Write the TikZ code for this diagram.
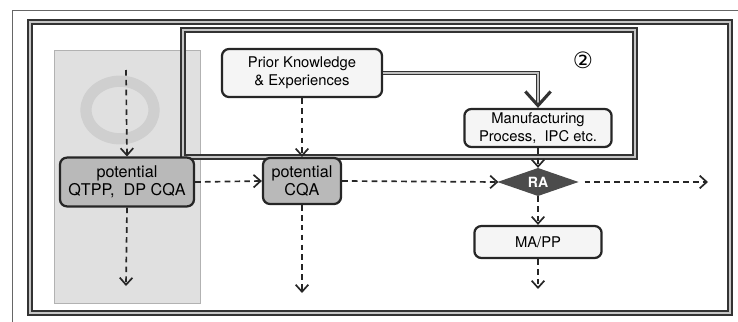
\documentclass[tikz,border=0pt]{standalone}
\usepackage{fontspec}
\setsansfont{TeX Gyre Heros}
\newfontfamily\circfont{DejaVu Sans}
\usetikzlibrary{arrows.meta,shapes.geometric,positioning}

\begin{document}
\begin{tikzpicture}[x=0.025cm, y=-0.025cm, node distance=1.5cm, thick,
    frame line/.style={draw=black!80, line width=1.1pt, double=gray!45, double distance=1.4pt},
    box node/.style={rectangle, rounded corners=5pt, draw=black!85, line width=1.6pt, font=\sffamily\fontsize{10.5}{12.5}\selectfont, align=center, inner sep=1pt},
    light node/.style={box node, fill=gray!8},
    dark node/.style={box node, fill=gray!55, font=\sffamily\fontsize{11.5}{12.5}\selectfont},
    risk node/.style={diamond, aspect=2.9, fill=black!70, draw=black!70, text=white, font=\sffamily\normalsize\bfseries, inner sep=0pt, minimum width=1.95cm, minimum height=0.68cm},
    flow/.style={dash pattern=on 4pt off 3pt, line width=1.2pt, color=black!85, -{Straight Barb[length=5pt,width=9pt,line width=1.2pt]}},
    feed/.style={draw=black!80, line width=1.1pt, double=gray!50, double distance=1.3pt, -{Straight Barb[length=10pt,width=18pt,line width=2.2pt]}}]

      \useasboundingbox (0,0) rectangle (738,322);

      % background
      \draw[black!60, thin] (12,322) -- (12,10) -- (738,10);
      \draw[gray!60, thin, fill=gray!24] (54,50) rectangle (200,303);
      \draw[gray!38, line width=8pt] (120,110) ellipse (0.85cm and 0.72cm);

      % frames
      \draw[frame line] (183,30) rectangle (635,157);
      \draw[frame line] (30,22) rectangle (730,313);
      \node[font=\circfont\fontsize{16}{16}\selectfont] (two) at (583,60) {②};

      \node[light node, minimum width=4cm, minimum height=1.2cm] (pk) at (302,73) {Prior Knowledge\\\& Experiences};
      \node[light node, minimum width=3.68cm, minimum height=0.95cm] (mfg) at (538,128) {Manufacturing\\Process,\ \ IPC etc.};
      \node[dark node, minimum width=3.35cm, minimum height=1.22cm] (qtpp) at (127,182) {potential\\QTPP,\ \ DP CQA};
      \node[dark node, minimum width=1.95cm, minimum height=1.15cm] (cqa) at (302,181) {potential\\CQA};
      \node[risk node] (ra) at (538,182) {RA};
      \node[light node, minimum width=3.18cm, minimum height=0.8cm] (mapp) [below of=ra] {MA/PP};

      \coordinate (qtpp in) at (126,70);
      \coordinate (qtpp out) at (126,286);
      \coordinate (cqa out) at (302,293);
      \coordinate (ra out) at (708,182);
      \coordinate (mapp out) at (538,289);

      \draw[feed] (pk.east) -| (mfg.north);

      \path[flow]
        (qtpp in) edge (qtpp.north)
        (qtpp.south) edge (qtpp out)
        (qtpp.east) edge (cqa.west)
        (pk.south) edge (cqa.north)
        (cqa.south) edge (cqa out)
        (cqa.east) edge (ra.west)
        (mfg.south) edge (ra.north)
        (ra.east) edge[shorten <=5pt] (ra out)
        (ra.south) edge (mapp.north)
        (mapp.south) edge (mapp out);

    \end{tikzpicture}
\end{document}
